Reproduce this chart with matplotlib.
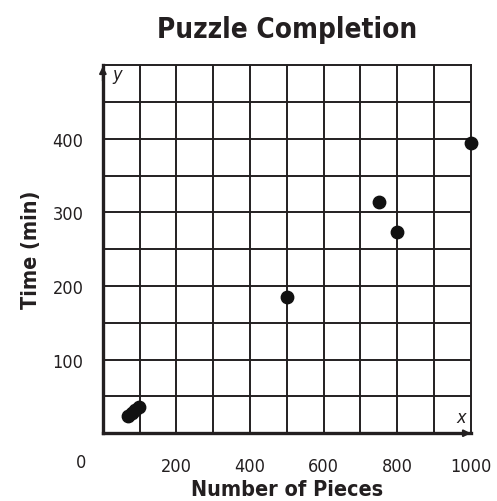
import numpy as np
import matplotlib
matplotlib.use("Agg")
import matplotlib.pyplot as plt

# Data
pieces = [68, 78, 88, 98, 500, 750, 800, 1000]
minutes = [23, 27, 31, 35, 185, 314, 273, 395]
x_ticks = [200, 400, 600, 800, 1000]
y_ticks = [100, 200, 300, 400]

plt.rcParams['font.family'] = ['DejaVu Sans']
plt.rcParams['font.stretch'] = 'condensed'

fig = plt.figure(figsize=(4.97, 5.02), dpi=100)
ax = fig.add_axes([0.207, 0.135, 0.740, 0.733])

ax.set_xlim(0, 1000)
ax.set_ylim(0, 500)

# grid every 100 on x, every 50 on y
for gx in np.arange(100, 1000, 100):
    ax.axvline(gx, color='#231f20', lw=1.4, zorder=1)
for gy in np.arange(50, 500, 50):
    ax.axhline(gy, color='#231f20', lw=1.4, zorder=1)

for side in ['top', 'right']:
    ax.spines[side].set_linewidth(1.4)
    ax.spines[side].set_color('#231f20')
for side in ['left', 'bottom']:
    ax.spines[side].set_linewidth(2.4)
    ax.spines[side].set_color('#231f20')

ax.scatter(pieces, minutes, s=80, color='#111111', zorder=3, clip_on=False)

ax.set_xticks(x_ticks)
ax.set_yticks(y_ticks)
ax.tick_params(length=0, labelsize=13, colors='#231f20')
ax.tick_params(axis='x', pad=17)
ax.tick_params(axis='y', pad=14)
ax.text(-0.06, -0.077, '0', transform=ax.transAxes, fontsize=13,
        ha='center', va='center', color='#231f20')

# axis arrows
ax.annotate('', xy=(0, 1.005), xytext=(0, 0.95), xycoords='axes fraction',
            arrowprops=dict(arrowstyle='-|>', color='#231f20', lw=1.5,
                            mutation_scale=10))
ax.annotate('', xy=(1.008, 0), xytext=(0.95, 0), xycoords='axes fraction',
            arrowprops=dict(arrowstyle='-|>', color='#231f20', lw=1.5,
                            mutation_scale=10))
ax.text(0.025, 0.975, 'y', transform=ax.transAxes, fontsize=13,
        style='italic', ha='left', va='center', color='#231f20')
ax.text(0.975, 0.045, 'x', transform=ax.transAxes, fontsize=13,
        style='italic', ha='center', va='center', color='#231f20')

ax.set_title('Puzzle Completion', fontsize=20, fontweight='bold',
             color='#231f20', pad=20)
ax.set_xlabel('Number of Pieces', fontsize=15.5, fontweight='bold',
              color='#231f20', labelpad=3)
ax.set_ylabel('Time (min)', fontsize=15.5, fontweight='bold',
              color='#231f20', labelpad=8)

fig.savefig('out.png', dpi=100)
